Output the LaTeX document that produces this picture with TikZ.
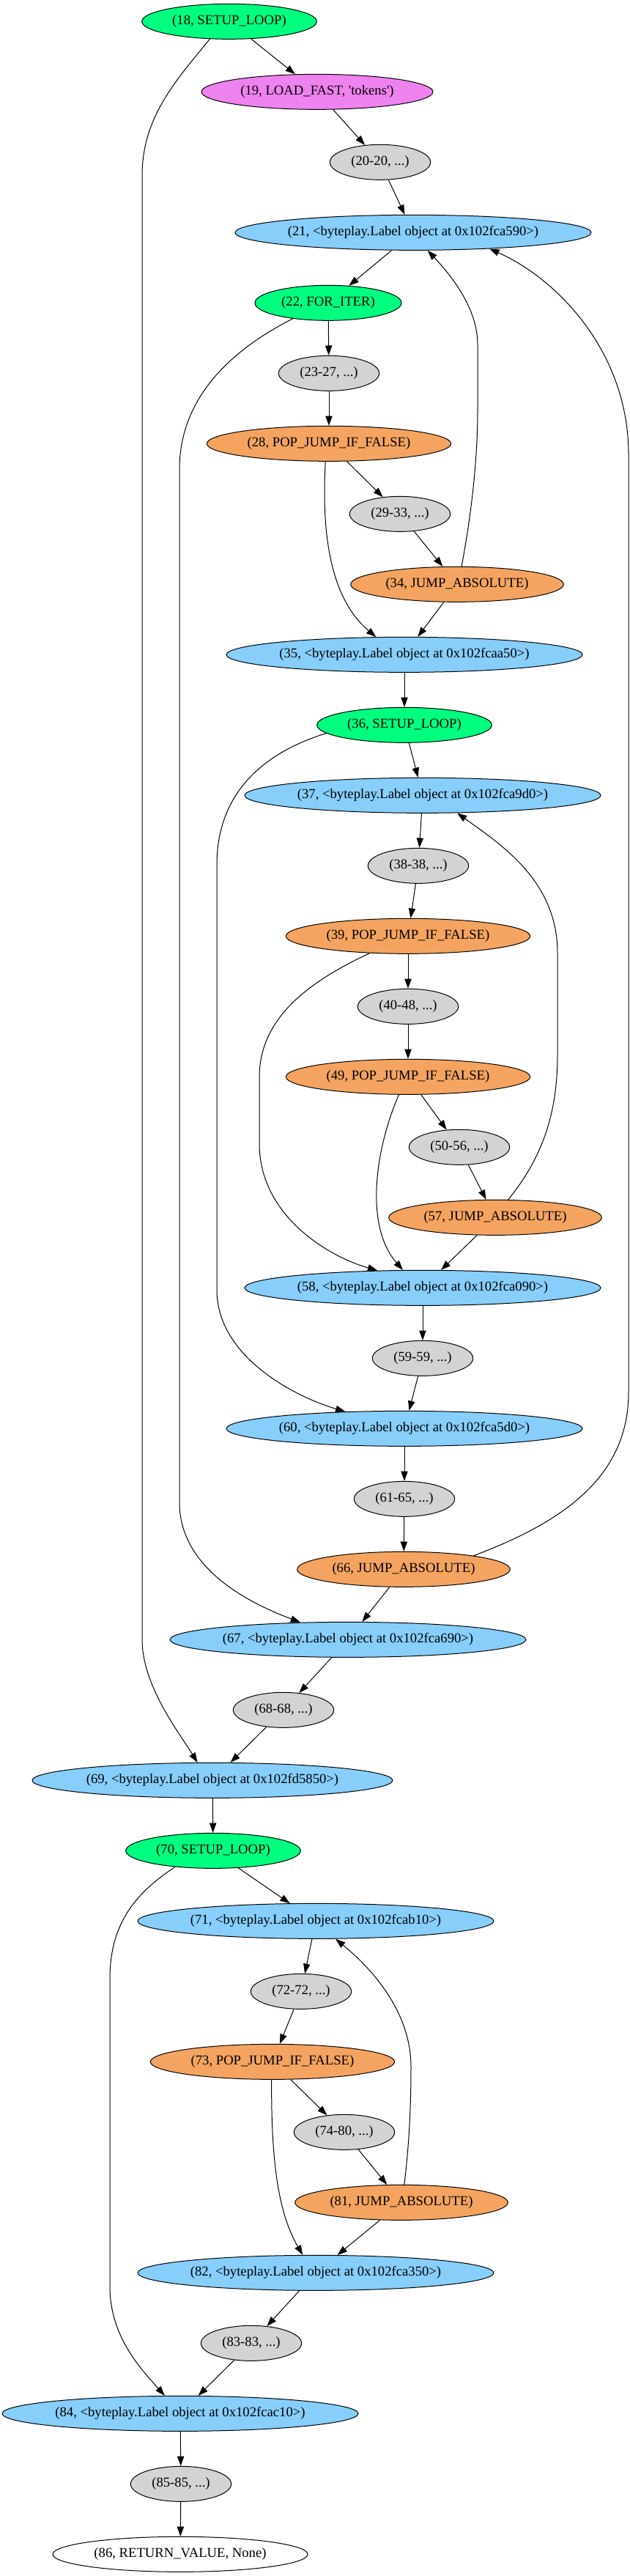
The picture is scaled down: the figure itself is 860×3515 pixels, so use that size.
\documentclass[tikz,border=0pt]{standalone}
\usepackage{fontspec}
\setmainfont{Liberation Serif}
\usetikzlibrary{shapes.geometric,arrows.meta}
\definecolor{cgreen}{RGB}{0,255,127}
\definecolor{cviolet}{RGB}{238,130,238}
\definecolor{cgray}{RGB}{211,211,211}
\definecolor{corange}{RGB}{244,164,96}
\definecolor{cblue}{RGB}{135,206,250}
\begin{document}
\begin{tikzpicture}[x=0.75pt,y=-0.75pt,
  gv/.style={ellipse, draw=black, line width=0.75pt, minimum height=36pt, inner xsep=-60pt, inner ysep=0pt, font=\fontsize{14}{16}\selectfont},
  small/.style={gv, fill=cgray, minimum width=103pt},
  setup/.style={gv, fill=cgreen, minimum width=179pt},
  forit/.style={gv, fill=cgreen, minimum width=150pt},
  load/.style={gv, fill=cviolet, minimum width=237pt},
  lbl/.style={gv, fill=cblue, minimum width=364.5pt},
  pop/.style={gv, fill=corange, minimum width=250pt},
  jump/.style={gv, fill=corange, minimum width=218pt},
  ret/.style={gv, fill=white, minimum width=261pt},
  gvedge/.style={draw=black, line width=0.75pt, -{Triangle[length=10pt,width=7pt]}}]
\useasboundingbox (0,0) rectangle (860,3515);
\node[setup] (n18) at (313,29.33) {(18, SETUP\_LOOP)};
\node[load] (n19) at (433,125.33) {(19, LOAD\_FAST, \textquotesingle tokens\textquotesingle)};
\node[small] (n20) at (519,221.33) {(20-20, ...)};
\node[lbl] (n21) at (564,317.33) {(21, <byteplay.Label object at 0x102fca590>)};
\node[forit] (n22) at (448,413.33) {(22, FOR\_ITER)};
\node[small] (n23) at (449,509.33) {(23-27, ...)};
\node[pop] (n28) at (449,605.33) {(28, POP\_JUMP\_IF\_FALSE)};
\node[small] (n29) at (546,701.33) {(29-33, ...)};
\node[jump] (n34) at (624,797.33) {(34, JUMP\_ABSOLUTE)};
\node[lbl] (n35) at (552,893.33) {(35, <byteplay.Label object at 0x102fcaa50>)};
\node[setup] (n36) at (552,989.33) {(36, SETUP\_LOOP)};
\node[lbl] (n37) at (577,1085.33) {(37, <byteplay.Label object at 0x102fca9d0>)};
\node[small] (n38) at (571,1181.33) {(38-38, ...)};
\node[pop] (n39) at (557,1277.33) {(39, POP\_JUMP\_IF\_FALSE)};
\node[small] (n40) at (557,1373.33) {(40-48, ...)};
\node[pop] (n49) at (557,1469.33) {(49, POP\_JUMP\_IF\_FALSE)};
\node[small] (n50) at (627,1565.33) {(50-56, ...)};
\node[jump] (n57) at (676,1661.33) {(57, JUMP\_ABSOLUTE)};
\node[lbl] (n58) at (577,1757.33) {(58, <byteplay.Label object at 0x102fca090>)};
\node[small] (n59) at (577,1853.33) {(59-59, ...)};
\node[lbl] (n60) at (552,1949.33) {(60, <byteplay.Label object at 0x102fca5d0>)};
\node[small] (n61) at (552,2045.33) {(61-65, ...)};
\node[jump] (n66) at (551,2141.33) {(66, JUMP\_ABSOLUTE)};
\node[lbl] (n67) at (475,2237.33) {(67, <byteplay.Label object at 0x102fca690>)};
\node[small] (n68) at (387,2333.33) {(68-68, ...)};
\node[lbl, minimum width=369pt] (n69) at (290,2429.33) {(69, <byteplay.Label object at 0x102fd5850>)};
\node[setup] (n70) at (291,2525.33) {(70, SETUP\_LOOP)};
\node[lbl] (n71) at (431,2621.33) {(71, <byteplay.Label object at 0x102fcab10>)};
\node[small] (n72) at (411,2717.33) {(72-72, ...)};
\node[pop] (n73) at (372,2813.33) {(73, POP\_JUMP\_IF\_FALSE)};
\node[small] (n74) at (470,2909.33) {(74-80, ...)};
\node[jump] (n81) at (548,3005.33) {(81, JUMP\_ABSOLUTE)};
\node[lbl] (n82) at (431,3101.33) {(82, <byteplay.Label object at 0x102fca350>)};
\node[small] (n83) at (343,3197.33) {(83-83, ...)};
\node[lbl] (n84) at (246,3293.33) {(84, <byteplay.Label object at 0x102fcac10>)};
\node[small] (n85) at (247,3389.33) {(85-85, ...)};
\node[ret] (n86) at (246,3485.33) {(86, RETURN\_VALUE, None)};

\draw[gvedge] (n18) -- (n19);
\draw[gvedge] (n18.-138) .. controls (240,110) and (194,160) .. (194,240) -- (194,2237) .. controls (194,2300) and (245,2365) .. (n69.130);
\draw[gvedge] (n19) -- (n20);
\draw[gvedge] (n20) -- (n21);
\draw[gvedge] (n21) -- (n22);
\draw[gvedge] (n22) -- (n23);
\draw[gvedge] (n22.-156) .. controls (320,475) and (245,540) .. (245,640) -- (245,2050) .. controls (245,2130) and (320,2180) .. (n67.160);
\draw[gvedge] (n23) -- (n28);
\draw[gvedge] (n28) -- (n29);
\draw[gvedge] (n28.-101) .. controls (438,740) and (455,820) .. (n35.148);
\draw[gvedge] (n29) -- (n34);
\draw[gvedge] (n34.76) .. controls (640,720) and (652,640) .. (652,560) -- (652,470) .. controls (652,420) and (615,375) .. (n21.-51);
\draw[gvedge] (n34) -- (n35);
\draw[gvedge] (n35) -- (n36);
\draw[gvedge] (n36) -- (n37);
\draw[gvedge] (n36.-174) .. controls (350,1030) and (296,1090) .. (296,1180) -- (296,1760) .. controls (296,1850) and (400,1905) .. (n60.164);
\draw[gvedge] (n37) -- (n38);
\draw[gvedge] (n38) -- (n39);
\draw[gvedge] (n39) -- (n40);
\draw[gvedge] (n39.-156) .. controls (420,1340) and (354,1390) .. (354,1470) -- (354,1560) .. controls (354,1660) and (450,1715) .. (n58.159);
\draw[gvedge] (n40) -- (n49);
\draw[gvedge] (n49) -- (n50);
\draw[gvedge] (n49.-117) .. controls (515,1560) and (495,1670) .. (n58.138);
\draw[gvedge] (n50) -- (n57);
\draw[gvedge] (n57.54) .. controls (740,1580) and (761,1520) .. (761,1440) -- (761,1300) .. controls (761,1200) and (680,1150) .. (n37.-27);
\draw[gvedge] (n57) -- (n58);
\draw[gvedge] (n58) -- (n59);
\draw[gvedge] (n59) -- (n60);
\draw[gvedge] (n60) -- (n61);
\draw[gvedge] (n61) -- (n66);
\draw[gvedge] (n66.11) .. controls (760,2080) and (858,2020) .. (858,1900) -- (858,620) .. controls (858,480) and (760,380) .. (n21.-12);
\draw[gvedge] (n66) -- (n67);
\draw[gvedge] (n67) -- (n68);
\draw[gvedge] (n68) -- (n69);
\draw[gvedge] (n69) -- (n70);
\draw[gvedge] (n70) -- (n71);
\draw[gvedge] (n70.-157) .. controls (190,2580) and (150,2620) .. (150,2700) -- (150,3120) .. controls (150,3190) and (195,3235) .. (n84.131);
\draw[gvedge] (n71) -- (n72);
\draw[gvedge] (n72) -- (n73);
\draw[gvedge] (n73) -- (n74);
\draw[gvedge] (n73.-93) .. controls (370,2950) and (380,3020) .. (n82.126);
\draw[gvedge] (n74) -- (n81);
\draw[gvedge] (n81.81) .. controls (558,2930) and (561,2880) .. (561,2820) .. controls (561,2740) and (500,2680) .. (n71.-42);
\draw[gvedge] (n81) -- (n82);
\draw[gvedge] (n82) -- (n83);
\draw[gvedge] (n83) -- (n84);
\draw[gvedge] (n84) -- (n85);
\draw[gvedge] (n85) -- (n86);
\end{tikzpicture}
\end{document}
